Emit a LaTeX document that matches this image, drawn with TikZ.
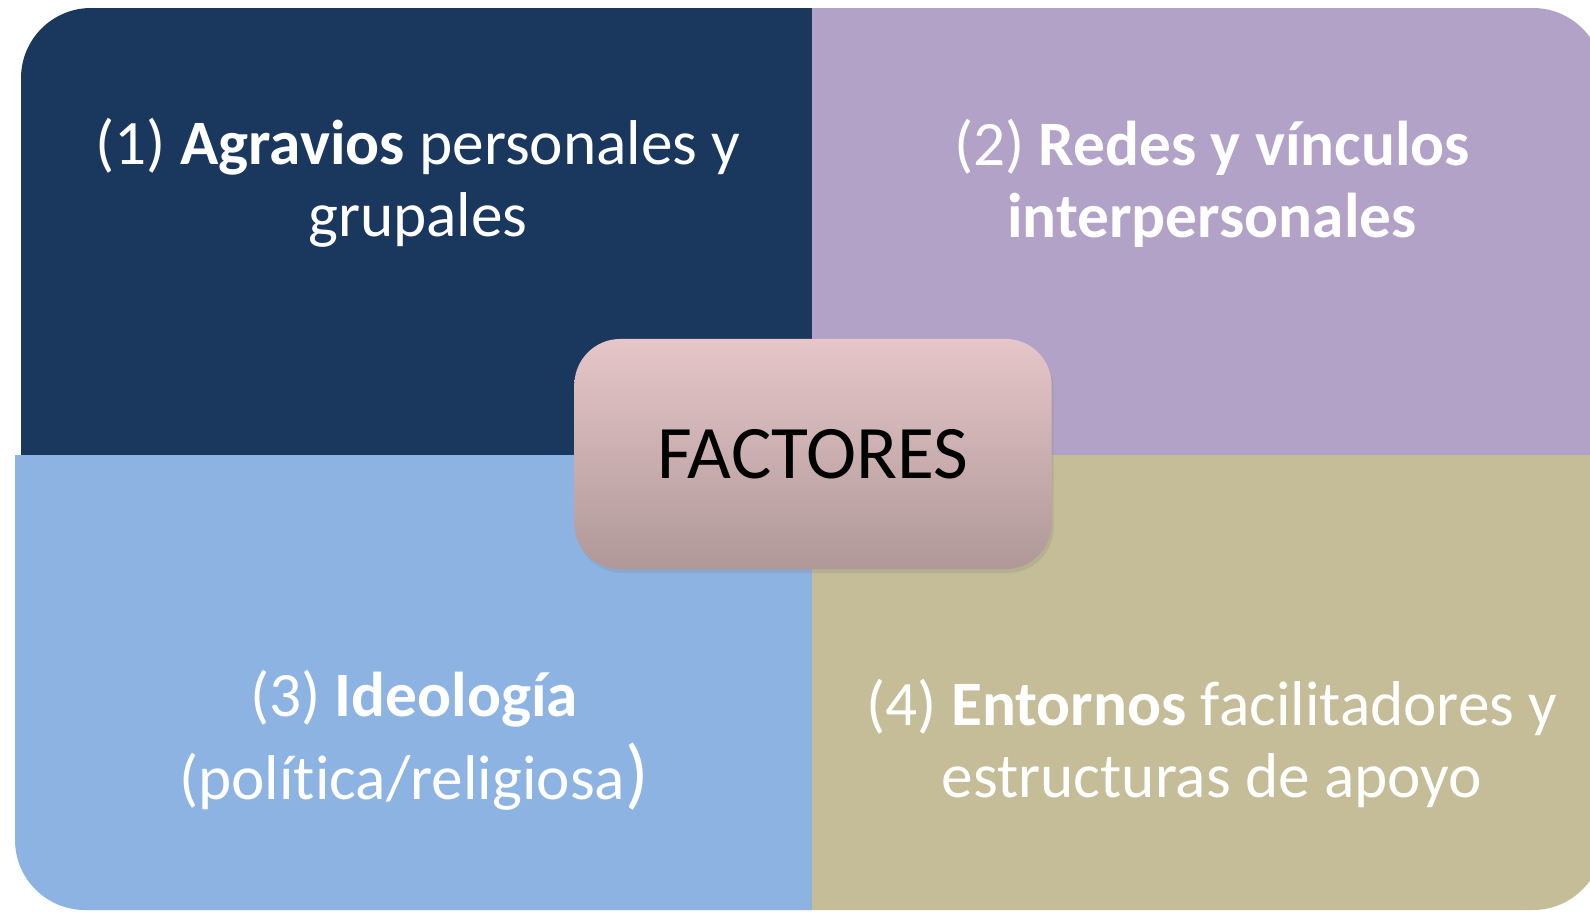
\documentclass[tikz,border=0pt]{standalone}
\usepackage{fontspec}
\setmainfont{Carlito}[Ligatures=NoCommon]
\usetikzlibrary{shadows}

\definecolor{agravio}{HTML}{1A375E}
\definecolor{redes}{HTML}{B2A2C7}
\definecolor{ideo}{HTML}{8DB3E2}
\definecolor{entorno}{HTML}{C4BD97}
\definecolor{factop}{HTML}{E6C6C8}
\definecolor{facbot}{HTML}{B09898}

\tikzset{
  quadtext/.style={text=white, align=center, font=\fontsize{18}{20.5}\selectfont},
  factbox/.style={rounded corners=0.46cm, top color=factop, bottom color=facbot,
    minimum width=4.77cm, minimum height=2.3cm, font=\fontsize{21.5}{26}\selectfont,
    drop shadow={opacity=0.2, shadow xshift=0.02cm, shadow yshift=-0.04cm}}
}

\begin{document}
\begin{tikzpicture}[x=0.01cm,y=-0.01cm]
\useasboundingbox (0,0) rectangle (1590,911);

\begin{scope}
\clip (0,0) rectangle (812,455);
\fill[agravio, rounded corners=0.7cm] (21,8) rectangle (1000,700);
\end{scope}
\begin{scope}
\clip (812,0) rectangle (1590,455);
\fill[redes, rounded corners=0.7cm] (600,8) rectangle (1603,700);
\end{scope}
\begin{scope}
\clip (0,455) rectangle (812,911);
\fill[ideo, rounded corners=0.7cm] (15,300) rectangle (1000,910);
\end{scope}
\begin{scope}
\clip (812,455) rectangle (1590,911);
\fill[entorno, rounded corners=0.7cm] (600,300) rectangle (1603,910);
\end{scope}

\node[quadtext] (agravios) at (418,183)
  {(1) \textbf{Agravios} personales y\\ grupales};
\node[quadtext] (redes) at (1212,183)
  {(2) \textbf{Redes y vínculos}\\ \textbf{interpersonales}};
\node[quadtext, font=\fontsize{18}{23.5}\selectfont] (ideologia) at (414,740)
  {(3) \textbf{Ideología}\\ (política/religiosa{\fontsize{22}{0}\selectfont)}};
\node[quadtext] (entornos) at (1212,743)
  {(4) \textbf{Entornos} facilitadores y\\ estructuras de apoyo};

\node[factbox] (factores) at (813,454) {FACTORES};

\end{tikzpicture}
\end{document}
